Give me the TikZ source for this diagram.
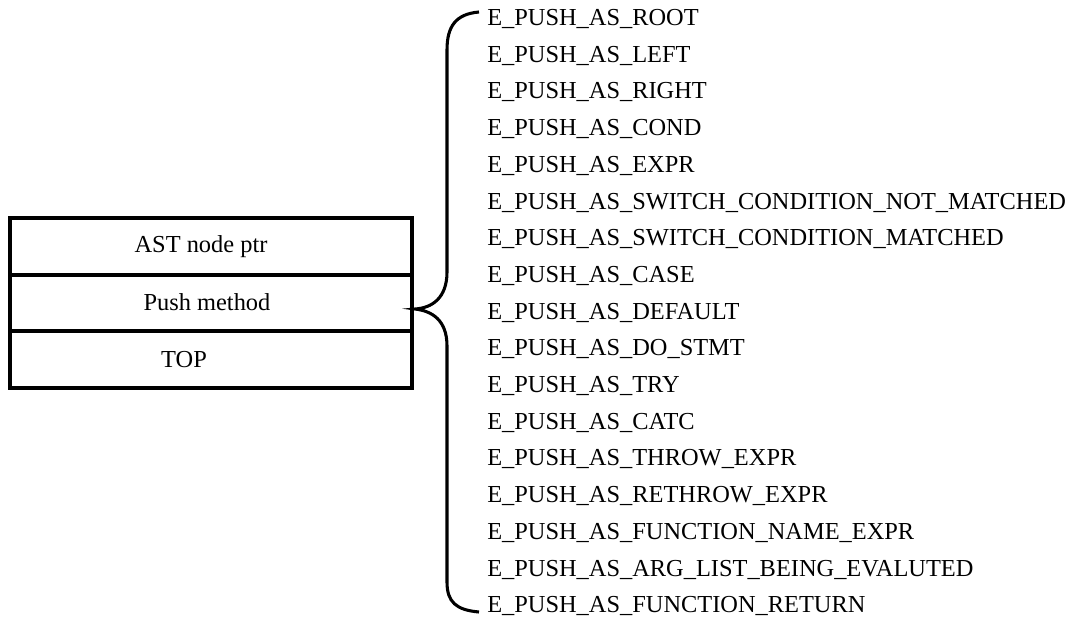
\documentclass[tikz,border=0pt]{standalone}
\usepackage{fontspec}
\setmainfont{Liberation Serif}
\usetikzlibrary{positioning}
\tikzset{
  row/.style={draw, line width=2.8pt, outer sep=0pt, minimum width=301.5pt, minimum height=42.5pt, inner sep=0pt},
  item/.style={anchor=west, inner sep=0pt, font=\fontsize{18.3}{20}\selectfont},
  rowtext/.style={inner sep=0pt, font=\fontsize{18.3}{20}\selectfont},
}
\begin{document}
\begin{tikzpicture}[x=0.75pt, y=-0.75pt]
\useasboundingbox (0,0) rectangle (1075,617);
% the record
\node[row] (ptr) at (211,246.3) {};
\node[row, below=0pt of ptr] (method) {};
\node[row, below=0pt of method] (top) {};
\node[rowtext] (ptrtext) at (201,247) {AST node ptr};
\node[rowtext] (methodtext) at (207,302) {Push method};
\node[rowtext] (toptext) at (184,360) {TOP};

% push modes
\node[item] (m0) at (487,19) {E\_PUSH\_AS\_ROOT};
\node[item] (m1) at (487,55.7) {E\_PUSH\_AS\_LEFT};
\node[item] (m2) at (487,92.4) {E\_PUSH\_AS\_RIGHT};
\node[item] (m3) at (487,129.1) {E\_PUSH\_AS\_COND};
\node[item] (m4) at (487,165.8) {E\_PUSH\_AS\_EXPR};
\node[item] (m5) at (487,202.5) {E\_PUSH\_AS\_SWITCH\_CONDITION\_NOT\_MATCHED};
\node[item] (m6) at (487,239.2) {E\_PUSH\_AS\_SWITCH\_CONDITION\_MATCHED};
\node[item] (m7) at (487,275.9) {E\_PUSH\_AS\_CASE};
\node[item] (m8) at (487,312.6) {E\_PUSH\_AS\_DEFAULT};
\node[item] (m9) at (487,349.3) {E\_PUSH\_AS\_DO\_STMT};
\node[item] (m10) at (487,386) {E\_PUSH\_AS\_TRY};
\node[item] (m11) at (487,422.7) {E\_PUSH\_AS\_CATC};
\node[item] (m12) at (487,459.4) {E\_PUSH\_AS\_THROW\_EXPR};
\node[item] (m13) at (487,496.1) {E\_PUSH\_AS\_RETHROW\_EXPR};
\node[item] (m14) at (487,532.8) {E\_PUSH\_AS\_FUNCTION\_NAME\_EXPR};
\node[item] (m15) at (487,569.5) {E\_PUSH\_AS\_ARG\_LIST\_BEING\_EVALUTED};
\node[item] (m16) at (487,606.2) {E\_PUSH\_AS\_FUNCTION\_RETURN};

% brace
\coordinate (btop) at (479,12);
\coordinate (bbot) at (479,612);
\coordinate (tip) at (415,309);
\path[draw, line width=2.3pt] (btop) .. controls (456,14) and (447,26) .. (447,50) -- (447,272)
  .. controls (447,298) and (432,308) .. (tip)
  .. controls (432,311) and (447,320) .. (447,346) -- (447,582)
  .. controls (447,602) and (456,610) .. (bbot);
\end{tikzpicture}
\end{document}
